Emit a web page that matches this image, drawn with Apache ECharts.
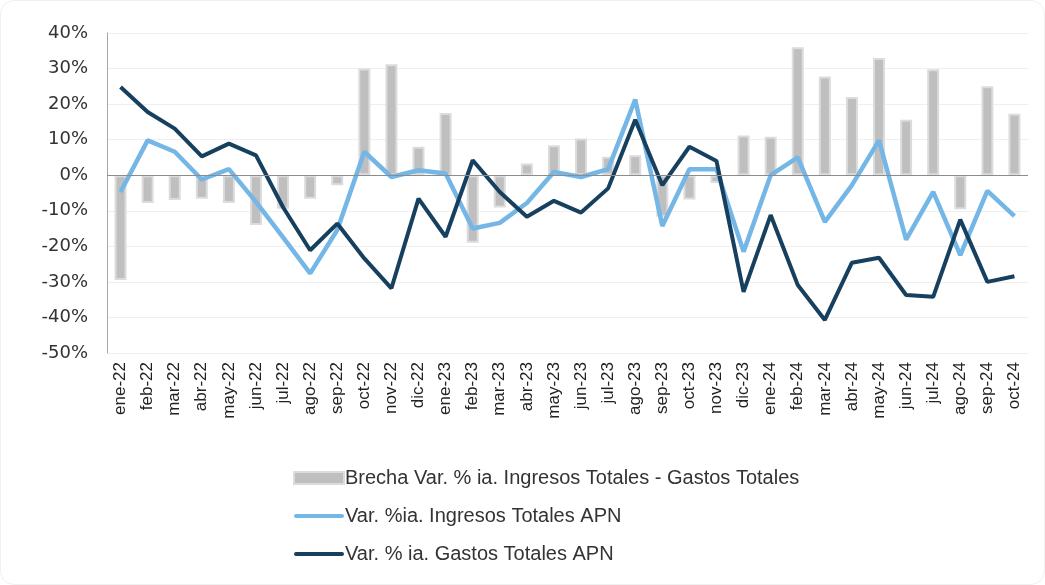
<!DOCTYPE html>
<html>
<head>
<meta charset="utf-8">
<script src="https://cdn.jsdelivr.net/npm/echarts@6/dist/echarts.min.js"></script>
<style>
  html, body { margin: 0; padding: 0; background: #fff; }
  #chart {
    position: absolute; left: 0; top: 0;
    width: 1043px; height: 583px;
    border: 1px solid #f0f0f0; border-radius: 14px;
  }
</style>
</head>
<body>
<div id="chart"></div>
<script>
// meses
const months = ['ene-22', 'feb-22', 'mar-22', 'abr-22', 'may-22', 'jun-22', 'jul-22', 'ago-22', 'sep-22', 'oct-22', 'nov-22', 'dic-22',
  'ene-23', 'feb-23', 'mar-23', 'abr-23', 'may-23', 'jun-23', 'jul-23', 'ago-23', 'sep-23', 'oct-23', 'nov-23', 'dic-23',
  'ene-24', 'feb-24', 'mar-24', 'abr-24', 'may-24', 'jun-24', 'jul-24', 'ago-24', 'sep-24', 'oct-24']

// Brecha ingresos - gastos (p.p.)
const gap = [-29.5, -7.8, -7, -6.6, -7.8, -14, -9.4, -6.6, -2.8, 30, 31.2, 8,
  17.5, -19, -9.1, 3.3, 8.4, 10.3, 5.2, 5.6, -11.7, -6.8, -2.2, 11.2,
  10.8, 36, 27.8, 22, 33, 15.6, 29.8, -9.6, 25, 17.3]

// Var. % ia. ingresos totales APN
const income = [-4.7, 9.8, 6.6, -1.2, 1.7, -7.5, -17.5, -27.6, -15.4, 6.6, -0.5, 1.4,
  0.5, -15, -13.4, -7.8, 0.9, -0.5, 1.7, 21.3, -14.3, 1.7, 1.7, -21.5,
  0, 5, -13.1, -2.8, 9.8, -18.1, -4.7, -22.5, -4.4, -11.5]

// Var. % ia. gastos totales APN
const spending = [24.8, 17.8, 13.1, 5.3, 8.9, 5.6, -9, -21.1, -13.6, -23.4, -31.8, -6.6,
  -17.3, 4.2, -4.7, -11.7, -7.2, -10.5, -3.7, 15.6, -2.8, 8, 4, -32.8,
  -11.2, -30.9, -40.7, -24.6, -23.2, -33.7, -34.2, -12.5, -30, -28.4]

const chart = echarts.init(document.getElementById('chart'))
const font = '"Liberation Sans", Arial, sans-serif'
const lineIcon = 'path://M2,0 H48 A2,2 0 0 1 48,4 H2 A2,2 0 0 1 2,0 Z'

chart.setOption({
  animation: false,
  textStyle: { fontFamily: font },
  grid: { left: 106, right: 16, top: 32, bottom: 231 },
  legend: {
    orient: 'vertical',
    left: 287,
    top: 462,
    itemWidth: 50,
    itemHeight: 12,
    itemGap: 18,
    textStyle: { fontSize: 20, color: '#333', fontFamily: font, padding: [0, 0, 0, -4] },
    data: [
      { name: 'Brecha Var. % ia. Ingresos Totales - Gastos Totales', icon: 'rect' },
      { name: 'Var. %ia. Ingresos Totales APN', icon: lineIcon },
      { name: 'Var. % ia. Gastos Totales APN', icon: lineIcon }
    ]
  },
  xAxis: {
    type: 'category',
    data: months,
    axisLine: { show: false },
    axisTick: { show: false },
    axisLabel: { rotate: 90, fontSize: 17, color: '#222', margin: 9, interval: 0 }
  },
  yAxis: {
    type: 'value',
    min: -50,
    max: 40,
    interval: 10,
    axisLine: { show: true, lineStyle: { color: '#a6a6a6' } },
    axisTick: { show: false },
    axisLabel: { formatter: '{value}%', fontSize: 18, color: '#333', margin: 19, fontFamily: '"DejaVu Sans", sans-serif' },
    splitLine: { lineStyle: { color: '#efefef' } }
  },
  series: [
    {
      name: 'Brecha Var. % ia. Ingresos Totales - Gastos Totales',
      type: 'bar',
      data: gap,
      barWidth: 12,
      itemStyle: { color: '#bfbfbf', borderColor: '#dcdcdc', borderWidth: 2 },
      markLine: {
        silent: true,
        symbol: ['none', 'none'],
        label: { show: false },
        lineStyle: { color: '#8c8c8c', type: 'solid', width: 1 },
        data: [{ yAxis: 0 }]
      }
    },
    {
      name: 'Var. %ia. Ingresos Totales APN',
      type: 'line',
      data: income,
      symbol: 'none',
      lineStyle: { color: '#74b6e6', width: 4.5 },
      itemStyle: { color: '#74b6e6' }
    },
    {
      name: 'Var. % ia. Gastos Totales APN',
      type: 'line',
      data: spending,
      symbol: 'none',
      lineStyle: { color: '#17405f', width: 4 },
      itemStyle: { color: '#17405f' }
    }
  ]
})
</script>
</body>
</html>
